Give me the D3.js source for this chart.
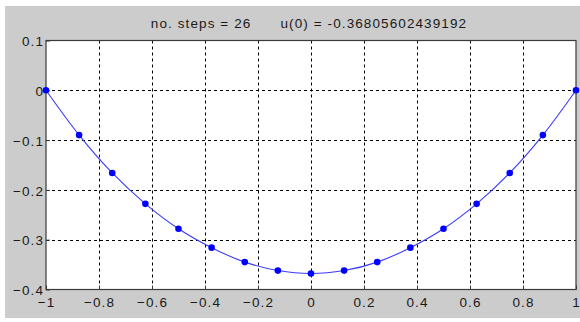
<!DOCTYPE html>
<html>
<head>
<meta charset="utf-8">
<script src="https://cdn.jsdelivr.net/npm/d3@7"></script>
<style>
  body { margin: 0; background: #fff; }
  svg { display: block; }
  text { font-family: "Liberation Sans", Arial, sans-serif; font-size: 13.5px; fill: #1a1a1a; letter-spacing: 1.1px; }
</style>
</head>
<body>
<div id="main"></div>
<script>
const width = 580;
const height = 322;
const margin = { left: 46, right: 4, top: 40.5, bottom: 32.5 };

// data
const xs = [-1, -0.875, -0.75, -0.625, -0.5, -0.375, -0.25, -0.125, 0,
  0.125, 0.25, 0.375, 0.5, 0.625, 0.75, 0.875, 1];
const us = [0, -0.09, -0.166, -0.228, -0.278, -0.316, -0.345, -0.362, -0.368,
  -0.362, -0.345, -0.316, -0.278, -0.228, -0.166, -0.09, 0];
const xTicks = [-1, -0.8, -0.6, -0.4, -0.2, 0, 0.2, 0.4, 0.6, 0.8, 1];
const yTicks = [0.1, 0, -0.1, -0.2, -0.3, -0.4];
const title = "no. steps = 26      u(0) = -0.36805602439192";

const points = xs.map((x, i) => ({ x: x, u: us[i] }));

let svg = d3
  .select("#main")
  .append("svg")
  .attr("width", width)
  .attr("height", height);

// figure background
svg.append("rect")
  .attr("x", 5).attr("y", 6)
  .attr("width", width - 5).attr("height", 312)
  .attr("fill", "#cccccc");

const x = d3.scaleLinear().domain([-1, 1]).range([margin.left, width - margin.right]);
const y = d3.scaleLinear().domain([-0.4, 0.1]).range([height - margin.bottom, margin.top]);

// axes area
svg.append("rect")
  .attr("x", x(-1)).attr("y", y(0.1))
  .attr("width", x(1) - x(-1)).attr("height", y(-0.4) - y(0.1))
  .attr("fill", "#ffffff");

// grid
let grid = svg.append("g").attr("class", "grid");
grid.selectAll(".vg")
  .data(xTicks.slice(1, -1))
  .enter()
  .append("line")
  .attr("x1", (d) => Math.round(x(d)) + 0.5)
  .attr("x2", (d) => Math.round(x(d)) + 0.5)
  .attr("y1", y(0.1))
  .attr("y2", y(-0.4))
  .attr("stroke", "#000")
  .attr("stroke-width", 1)
  .attr("stroke-dasharray", "3,3");
grid.selectAll(".hg")
  .data(yTicks.slice(1, -1))
  .enter()
  .append("line")
  .attr("x1", x(-1))
  .attr("x2", x(1))
  .attr("y1", (d) => Math.round(y(d)) + 0.5)
  .attr("y2", (d) => Math.round(y(d)) + 0.5)
  .attr("stroke", "#000")
  .attr("stroke-width", 1)
  .attr("stroke-dasharray", "3,3");

// box
svg.append("rect")
  .attr("x", x(-1)).attr("y", y(0.1))
  .attr("width", x(1) - x(-1)).attr("height", y(-0.4) - y(0.1))
  .attr("fill", "none")
  .attr("stroke", "#3a3a3a")
  .attr("stroke-width", 1.2);

// axes (ticks point inward, like matlab)
let xAxis = svg.append("g")
  .attr("transform", `translate(0,${y(-0.4)})`)
  .call(d3.axisBottom(x).tickValues(xTicks).tickSize(-4).tickPadding(9.5).tickFormat(d3.format("")));
let yAxis = svg.append("g")
  .attr("transform", `translate(${x(-1)},0)`)
  .call(d3.axisLeft(y).tickValues(yTicks).tickSize(-4).tickPadding(2).tickFormat(d3.format("")));
[xAxis, yAxis].forEach((a) => {
  a.select(".domain").remove();
  a.selectAll(".tick line").attr("stroke", "#3a3a3a");
  a.selectAll("text").attr("font-size", null).attr("font-family", null).attr("fill", "#1a1a1a");
});
yAxis.selectAll("text").attr("dy", "0.38em");
xAxis.selectAll("text").attr("dy", "0.6em");

// curve
const line = d3.line()
  .x((d) => x(d.x))
  .y((d) => y(d.u))
  .curve(d3.curveCatmullRom.alpha(0.5));
svg.append("path")
  .datum(points)
  .attr("d", line)
  .attr("fill", "none")
  .attr("stroke", "#3a3aff")
  .attr("stroke-width", 1.1);

svg.append("g")
  .selectAll("circle")
  .data(points)
  .enter()
  .append("circle")
  .attr("cx", (d) => x(d.x))
  .attr("cy", (d) => y(d.u))
  .attr("r", 3.3)
  .attr("fill", "#0000ff");

// title
svg.append("text")
  .attr("x", (x(-1) + x(1)) / 2 - 2)
  .attr("y", 28)
  .attr("text-anchor", "middle")
  .attr("xml:space", "preserve")
  .style("white-space", "pre")
  .text(title);
</script>
</body>
</html>
